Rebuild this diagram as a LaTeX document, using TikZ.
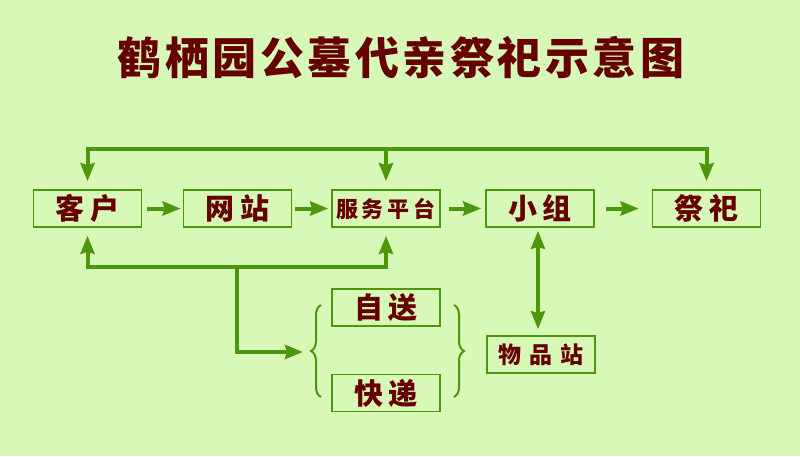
\documentclass[tikz,border=0pt]{standalone}
\usepackage{fontspec}
\newfontfamily\cjk{Noto Sans CJK SC}
\usetikzlibrary{arrows.meta,decorations.pathreplacing}
\definecolor{bg}{RGB}{216,248,184}
\definecolor{ln}{RGB}{76,152,10}
\definecolor{tx}{RGB}{102,0,0}
\newcommand\gapA{\hspace{6pt}}
\newcommand\gapB{\hspace{4pt}}
\newcommand\gapC{\hspace{8pt}}
\newcommand\gapT{\hspace{3.5pt}}
\begin{document}
\begin{tikzpicture}[x=1pt,y=-1pt,
  box/.style={draw=ln, line width=1.6pt, minimum width=108pt, minimum height=37pt,
    inner sep=0pt, text=tx, font=\cjk\bfseries\fontsize{29}{29}\selectfont},
  smallbox/.style={box, font=\cjk\bfseries\fontsize{22}{22}\selectfont},
  midbox/.style={box, font=\cjk\bfseries\fontsize{23}{23}\selectfont},
  tip/.style={-{Stealth[length=18pt,width=14pt,inset=2pt]}},
  conn/.style={draw=ln, line width=4pt, tip},
  brace/.style={draw=ln, line width=2pt, decorate, decoration={brace, amplitude=10pt}}]
\fill[bg] (0,0) rectangle (800,456);
\useasboundingbox (0,0) rectangle (800,456);
\node[text=tx, font=\cjk\bfseries\fontsize{44}{44}\selectfont] (title) at (401,58)
  {鹤\gapT 栖\gapT 园\gapT 公\gapT 墓\gapT 代\gapT 亲\gapT 祭\gapT 祀\gapT 示\gapT 意\gapT 图};
\node[box] (kehu) at (87.5,208.5) {客\gapA 户};
\node[box] (wangzhan) at (237.5,208.5) {网\gapA 站};
\node[smallbox] (fwpt) at (386,208.5) {服\gapB 务\gapB 平\gapB 台};
\node[box] (xiaozu) at (540,208.5) {小\gapA 组};
\node[box] (jisi) at (706.5,208.5) {祭\gapA 祀};
\node[box] (zisong) at (386,307.5) {自\gapA 送};
\node[box] (kuaidi) at (386,393) {快\gapA 递};
\node[midbox] (wpz) at (541,354.5) {物\gapC 品\gapC 站};
% horizontal flow
\draw[conn] ([xshift=5pt]kehu.east) -- ([xshift=-2pt]wangzhan.west);
\draw[conn] ([xshift=3pt]wangzhan.east) -- ([xshift=-3pt]fwpt.west);
\draw[conn] ([xshift=8pt]fwpt.east) -- ([xshift=-4pt]xiaozu.west);
\draw[conn] ([xshift=11pt]xiaozu.east) -- ([xshift=-13pt]jisi.west);
% top feedback line
\coordinate (tm) at (386,149);
\draw[conn] (tm) -| ([yshift=8pt]kehu.north);
\draw[conn] (tm) -| ([yshift=8pt]jisi.north);
\draw[conn] (tm) -- ([yshift=8pt]fwpt.north);
% bottom line
\coordinate (bm) at (237,267);
\coordinate (bt) at (303,352);
\draw[conn] (bm) -| ([yshift=-8pt]kehu.south);
\draw[conn] (bm) -| ([yshift=-8pt]fwpt.south);
\draw[conn] (bm) |- (bt);
% xiaozu <-> wupinzhan
\draw[draw=ln, line width=4pt, {Stealth[length=18pt,width=14pt,inset=2pt]}-{Stealth[length=18pt,width=14pt,inset=2pt]}]
  ([xshift=-2pt,yshift=-3pt]xiaozu.south) -- ([xshift=-3pt,yshift=6pt]wpz.north);
% braces
\coordinate (lb1) at (321,397);
\coordinate (lb2) at (321,305);
\coordinate (rb1) at (454,305);
\coordinate (rb2) at (454,397);
\draw[brace] (lb1) -- (lb2);
\draw[brace] (rb1) -- (rb2);
\end{tikzpicture}
\end{document}
